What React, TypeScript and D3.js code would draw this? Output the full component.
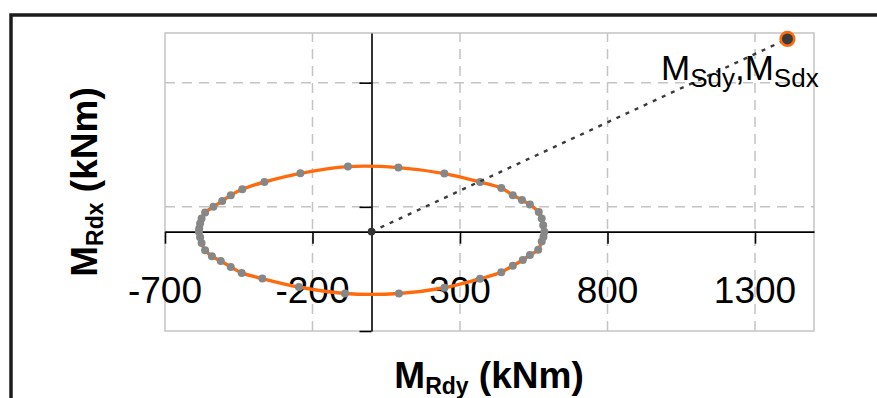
import React from "react";
import * as d3 from "d3";

// interaction curve, MRdy (x) vs MRdx (y), kNm
const curveMy = [
  -585, -584, -581, -576, -564, -536, -506, -477, -438, -363, -241, -80, 91,
  247, 368, 440, 479, 510, 537, 567, 577, 582, 586, 583, 577, 565, 537, 513,
  479, 440, 368, 247, 93, -90, -246, -370, -440, -477, -511, -541, -564, -576,
  -581,
];
const curveMx = [
  0, 13, 33, 53, 77, 100, 123, 147, 171, 200, 235, 262, 258, 234, 200, 176,
  147, 128, 109, 79, 53, 26, 0, -20, -40, -73, -94, -114, -137, -163, -190,
  -226, -249, -249, -223, -189, -166, -142, -118, -99, -75, -46, -22,
];

// design point MSdy, MSdx
const sdPoint = [1410, 776];

const xTicks = [-700, -200, 300, 800, 1300];
const yTicks = [-400, 100, 600];
const xDomain = [-700, 1500];
const yDomain = [-400, 800];

export default function App() {
  const svgRef = React.useRef<SVGSVGElement>(null);
  const width = 877;
  const height = 398;

  React.useEffect(() => {
    const svg = d3.select(svgRef.current);
    svg.selectAll("*").remove();

    var font = "'Liberation Sans', Arial, sans-serif";
    var orange = "#ff6a0d";
    var grid = "#c4c4c4";

    var x = d3.scaleLinear().domain(xDomain).range([165, 814]);
    var y = d3.scaleLinear().domain(yDomain).range([331, 33]);

    /* outer frame */
    svg
      .append("rect")
      .attr("x", 11)
      .attr("y", 15)
      .attr("width", 950)
      .attr("height", 500)
      .attr("fill", "none")
      .attr("stroke", "#1c1c1c")
      .attr("stroke-width", 3.5);

    /* gridlines */
    svg
      .append("g")
      .selectAll("line")
      .data(xTicks.slice(1))
      .enter()
      .append("line")
      .attr("x1", (d) => x(d))
      .attr("x2", (d) => x(d))
      .attr("y1", y(yDomain[0]))
      .attr("y2", y(yDomain[1]))
      .attr("stroke", grid)
      .attr("stroke-width", 1.5)
      .attr("stroke-dasharray", "10,7");

    svg
      .append("g")
      .selectAll("line")
      .data(yTicks.slice(1))
      .enter()
      .append("line")
      .attr("x1", x(xDomain[0]))
      .attr("x2", x(xDomain[1]))
      .attr("y1", (d) => y(d))
      .attr("y2", (d) => y(d))
      .attr("stroke", grid)
      .attr("stroke-width", 1.5)
      .attr("stroke-dasharray", "10,7");

    /* plot area border */
    svg
      .append("rect")
      .attr("x", x(xDomain[0]))
      .attr("y", y(yDomain[1]))
      .attr("width", x(xDomain[1]) - x(xDomain[0]))
      .attr("height", y(yDomain[0]) - y(yDomain[1]))
      .attr("fill", "none")
      .attr("stroke", grid)
      .attr("stroke-width", 1.5);

    /* axes through zero */
    var xAxis = d3
      .axisBottom(x)
      .tickValues(xTicks)
      .tickSize(12)
      .tickSizeOuter(0)
      .tickFormat(() => "");
    var gx = svg
      .append("g")
      .attr("transform", `translate(0, ${y(0)})`)
      .call(xAxis);
    gx.selectAll("line, path").attr("stroke", "#000").attr("stroke-width", 1.6);

    var yAxis = d3
      .axisLeft(y)
      .tickValues(yTicks)
      .tickSize(12)
      .tickSizeOuter(0)
      .tickFormat(() => "");
    var gy = svg
      .append("g")
      .attr("transform", `translate(${x(0)}, 0)`)
      .call(yAxis);
    gy.selectAll("line, path").attr("stroke", "#000").attr("stroke-width", 1.6);

    /* tick labels */
    svg
      .append("g")
      .selectAll("text")
      .data(xTicks)
      .enter()
      .append("text")
      .attr("x", (d) => x(d))
      .attr("y", 303)
      .attr("text-anchor", "middle")
      .attr("font-family", font)
      .attr("font-size", 37)
      .attr("fill", "#000")
      .text((d) => d);

    /* interaction curve */
    var pts = curveMy.map((d, i) => [d, curveMx[i]]);
    var line = d3
      .line()
      .x((d) => x(d[0]))
      .y((d) => y(d[1]))
      .curve(d3.curveCatmullRomClosed);

    svg
      .append("path")
      .attr("d", line(pts))
      .attr("fill", "none")
      .attr("stroke", orange)
      .attr("stroke-width", 3.4);

    svg
      .append("g")
      .selectAll("circle")
      .data(pts)
      .enter()
      .append("circle")
      .attr("cx", (d) => x(d[0]))
      .attr("cy", (d) => y(d[1]))
      .attr("r", 4)
      .attr("fill", "#878787");

    /* dotted line from origin to design point */
    svg
      .append("line")
      .attr("x1", x(0))
      .attr("y1", y(0))
      .attr("x2", x(sdPoint[0]))
      .attr("y2", y(sdPoint[1]))
      .attr("stroke", "#3a3a3a")
      .attr("stroke-width", 2.4)
      .attr("stroke-dasharray", "4,6");

    svg
      .append("circle")
      .attr("cx", x(0))
      .attr("cy", y(0))
      .attr("r", 3.8)
      .attr("fill", "#333");

    svg
      .append("circle")
      .attr("cx", x(sdPoint[0]))
      .attr("cy", y(sdPoint[1]))
      .attr("r", 6.8)
      .attr("fill", "#3a3a3a")
      .attr("stroke", orange)
      .attr("stroke-width", 2.6);

    /* point label */
    var lbl = svg
      .append("text")
      .attr("x", 661)
      .attr("y", 80)
      .attr("font-family", font)
      .attr("font-size", 35)
      .attr("fill", "#000");
    lbl.append("tspan").text("M");
    lbl.append("tspan").attr("font-size", 26).attr("dy", 7).text("Sdy");
    lbl.append("tspan").attr("dy", -7).text(",M");
    lbl.append("tspan").attr("font-size", 26).attr("dy", 7).text("Sdx");

    /* axis titles */
    var xt = svg
      .append("text")
      .attr("x", 489)
      .attr("y", 388)
      .attr("text-anchor", "middle")
      .attr("font-family", font)
      .attr("font-weight", "bold")
      .attr("font-size", 37)
      .attr("fill", "#000");
    xt.append("tspan").text("M");
    xt.append("tspan").attr("font-size", 23).attr("dy", 6).text("Rdy");
    xt.append("tspan").attr("dy", -6).text(" (kNm)");

    var yt = svg
      .append("text")
      .attr("transform", "translate(97, 182) rotate(-90)")
      .attr("text-anchor", "middle")
      .attr("font-family", font)
      .attr("font-weight", "bold")
      .attr("font-size", 37)
      .attr("fill", "#000");
    yt.append("tspan").text("M");
    yt.append("tspan").attr("font-size", 23).attr("dy", 6).text("Rdx");
    yt.append("tspan").attr("dy", -6).text(" (kNm)");
  }, []);

  return (
    <svg
      ref={svgRef}
      width={width}
      height={height}
      style={{ position: "absolute", left: 0, top: 0, background: "#fff" }}
    />
  );
}
